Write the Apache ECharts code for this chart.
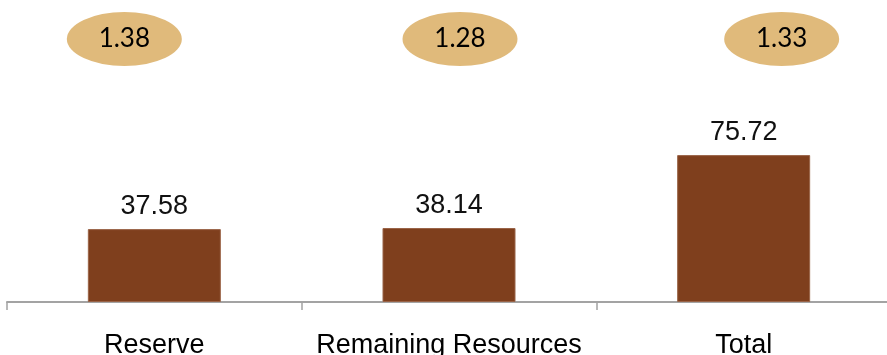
<!DOCTYPE html>
<html>
<head>
<meta charset="utf-8">
<script src="https://cdn.jsdelivr.net/npm/echarts@6/dist/echarts.min.js"></script>
<style>
  html, body { margin: 0; padding: 0; background: #ffffff; }
  #chart { width: 887px; height: 355px; }
</style>
</head>
<body>
<div id="chart"></div>
<script>
// Categories and values
const categories = ['Reserve', 'Remaining Resources', 'Total'];
const volumes = [37.58, 38.14, 75.72];
const ratios = [1.38, 1.28, 1.33];

// Horizontal shift of each ratio badge relative to its category centre (px)
const badgeShift = [-30, 11, 38];

const chart = echarts.init(document.getElementById('chart'), null, { renderer: 'canvas' });

const gridLeft = 7;
const gridWidth = 884;

chart.setOption({
  animation: false,
  backgroundColor: '#ffffff',
  grid: [
    { left: gridLeft, width: gridWidth, top: 108, height: 194, outerBoundsMode: 'none', containLabel: false },
    { left: gridLeft, width: gridWidth, top: 12, height: 54, outerBoundsMode: 'none', containLabel: false }
  ],
  xAxis: [
    {
      type: 'category',
      gridIndex: 0,
      data: categories,
      axisLine: { show: true, lineStyle: { color: '#a3a3a3', width: 2 } },
      axisTick: { show: true, length: 8, lineStyle: { color: '#a3a3a3', width: 1.5 } },
      axisLabel: {
        interval: 0,
        margin: 30,
        color: '#000000',
        fontFamily: '"Liberation Sans", Arial, sans-serif',
        fontSize: 27
      }
    },
    {
      type: 'category',
      gridIndex: 1,
      data: categories,
      show: false
    }
  ],
  yAxis: [
    {
      type: 'value',
      gridIndex: 0,
      min: 0,
      max: 100,
      show: false,
      splitLine: { show: false }
    },
    {
      type: 'category',
      gridIndex: 1,
      data: ['ratio'],
      show: false
    }
  ],
  series: [
    {
      type: 'bar',
      xAxisIndex: 0,
      yAxisIndex: 0,
      data: volumes,
      barWidth: 133,
      itemStyle: { color: '#7f3f1d', borderColor: '#9a6448', borderWidth: 1 },
      label: {
        show: true,
        position: 'top',
        distance: 9,
        color: '#111111',
        fontFamily: '"Liberation Sans", Arial, sans-serif',
        fontSize: 27,
        formatter: p => p.value.toFixed(2)
      }
    },
    {
      type: 'scatter',
      xAxisIndex: 1,
      yAxisIndex: 1,
      symbol: 'circle',
      symbolSize: [115, 54],
      itemStyle: { color: '#e0ba7b', opacity: 1 },
      data: categories.map((c, i) => ({
        value: [c, 'ratio', ratios[i]],
        symbolOffset: [badgeShift[i], 0]
      })),
      label: {
        show: true,
        position: 'inside',
        color: '#000000',
        fontFamily: 'Lato, "Open Sans", sans-serif',
        fontSize: 26,
        formatter: p => p.value[2].toFixed(2)
      }
    }
  ]
});
</script>
</body>
</html>
